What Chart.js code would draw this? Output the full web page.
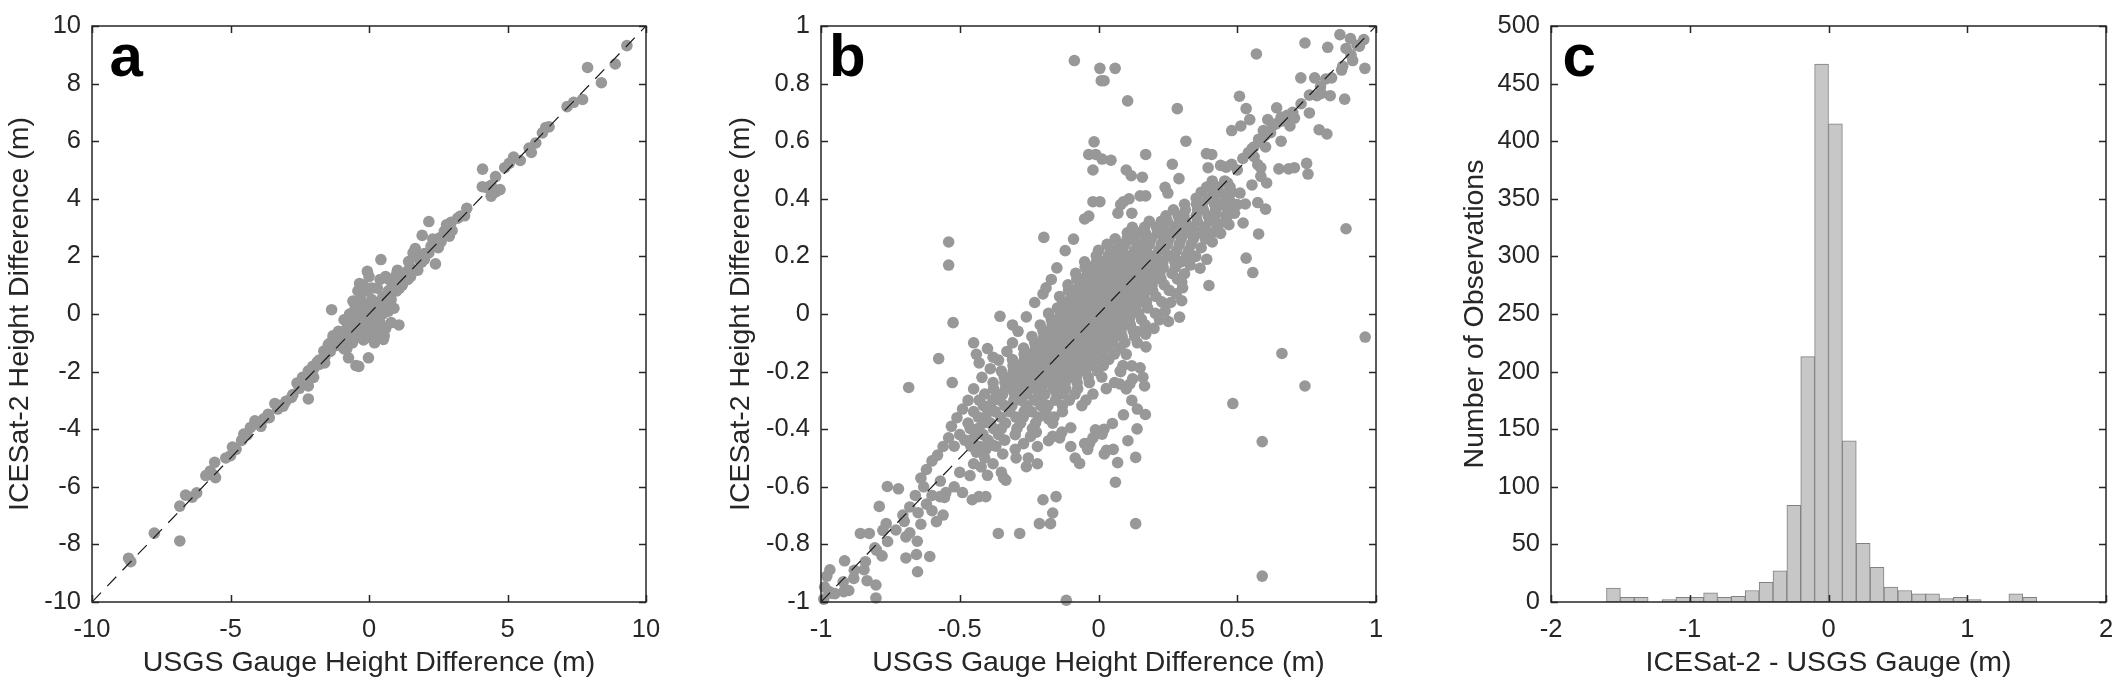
<!DOCTYPE html>
<html><head><meta charset="utf-8">
<script src="https://cdn.jsdelivr.net/npm/chart.js@4.4.1/dist/chart.umd.min.js"></script>
<style>
html,body{margin:0;padding:0;background:#fff;}
body{width:2125px;height:686px;position:relative;overflow:hidden;}
canvas{position:absolute;top:0;}
</style></head><body>
<canvas id="ca" width="700" height="686" style="left:0px"></canvas>
<canvas id="cb" width="730" height="686" style="left:700px"></canvas>
<canvas id="cc" width="695" height="686" style="left:1430px"></canvas>
<script>
// ---------- tick values ----------
const aTicksX = [-10, -5, 0, 5, 10];
const aTicksY = [-10, -8, -6, -4, -2, 0, 2, 4, 6, 8, 10];
const bTicksX = [-1, -0.5, 0, 0.5, 1];
const bTicksY = [-1, -0.8, -0.6, -0.4, -0.2, 0, 0.2, 0.4, 0.6, 0.8, 1];
const cTicksX = [-2, -1, 0, 1, 2];
const cTicksY = [0, 50, 100, 150, 200, 250, 300, 350, 400, 450, 500];

// ---------- 1:1 lines ----------
const aOneToOne = [[-10, -10], [10, 10]];
const bOneToOne = [[-1, -1], [1, 1]];

// ---------- panel a: ICESat-2 vs USGS height difference (m) ----------
const aPoints = [
[9.31,9.32],[7.89,8.56],[8.89,8.68],[8.39,8.03],[7.71,7.45],[7.39,7.35],[7.15,7.2],[6.38,6.47],[6.26,6.29],[6.5,6.5],
[6.02,5.94],[5.86,5.61],[5.78,5.76],[5.46,5.33],[5.22,5.45],[5.06,5.23],[4.9,5.08],[4.1,5.03],[4.57,4.77],[4.41,4.47],
[4.25,4.39],[4.57,4.24],[4.73,4.32],[4.09,4.42],[4.41,4.09],[3.53,3.67],[3.45,3.41],[3.2,3.33],[2.96,3.18],[2.8,3.1],
[2.72,2.88],[2.56,2.65],[2.16,3.21],[1.92,2.73],[2.4,1.74],[2.4,2.42],[2.16,2.12],[2.24,2.35],[1.67,2.27],[1.59,2.12],
[1.76,1.52],[1.35,1.36],[1.19,1.21],[1.43,1.82],[1.03,1.52],[0.71,1.21],[0.87,1.06],[1.2,1.4],[1.5,1.3],[1.8,2.0],
[2.0,2.1],[2.6,2.5],[2.9,2.7],[3.0,2.9],[1.1,0.9],[1.4,1.5],[2.5,2.3],[2.3,2.6],[3.3,3.4],[2.0,1.9],
[-2.0,-1.9],[-1.8,-1.75],[-1.6,-1.5],[-1.4,-1.3],[-1.2,-1.1],[-1.0,-0.9],[-1.1,-0.6],[-0.9,-0.8],[-0.8,-0.5],[-0.7,-0.9],
[-0.6,-0.3],[-0.5,-0.6],[-0.4,-0.1],[-0.3,-0.4],[-0.2,0.2],[-0.1,-0.2],[0,0],[0.1,0.3],[0.2,-0.1],[0.3,0.4],
[0.4,0.1],[0.5,0.6],[0.6,0.3],[0.7,0.8],[0.8,0.5],[0.9,1.0],[1.0,0.8],[1.1,1.2],[1.2,1.0],[1.3,1.4],
[1.5,1.6],[1.6,1.5],[1.8,1.9],[1.9,1.8],[-0.5,0.2],[-0.3,0.5],[-0.1,0.8],[0.1,0.9],[0.3,0.9],[-0.5,-0.2],
[-0.3,0],[-0.1,0.3],[0.1,0.5],[0.3,0.2],[0.5,0.0],[0.7,0.1],[0.8,-0.3],[0.6,-0.5],[0.4,-0.3],[0.2,-0.5],
[0.0,-0.4],[-0.2,-0.6],[-0.4,-0.8],[-0.6,-1.0],[-0.2,-0.9],[0.0,-0.8],[0.2,-1.0],[0.3,-0.7],[0.5,-0.8],[-0.8,-1.2],
[-0.7,0.0],[-0.9,-0.2],[0.9,0.2],[1.0,1.4],[0.6,1.3],[0.4,1.2],[-0.2,1.0],[-0.4,0.8],[0.0,1.3],[0.2,0.1],
[-0.1,-0.1],[0.1,-0.2],[-0.3,-0.3],[0.3,-0.1],[0.5,0.3],[0.7,0.5],[-0.6,-0.7],[-0.8,-0.8],[-1.0,-1.1],[-1.2,-0.8],
[-1.4,-1.0],[1.2,1.3],[1.4,1.2],[0.8,0.9],[-0.06,1.48],[0.43,1.89],[-0.34,1.06],[-0.26,0.76],[-0.58,0.45],[-0.42,0.3],
[-1.35,0.15],[1.08,-0.38],[0.52,-0.88],[0.55,-0.76],[-0.02,-1.52],[-0.47,-1.79],[-0.37,-1.82],[-0.74,-1.52],[-0.9,-1.21],[-1.06,-0.91],
[-1.3,-0.76],[-1.47,-1.06],[-1.63,-1.29],[-1.87,-1.67],[-2.03,-1.82],[-2.19,-1.97],[-2.35,-2.27],[-2.19,-2.5],[-2.19,-2.95],[-2.51,-2.58],
[-2.75,-2.8],[-3.0,-3.03],[-3.24,-3.18],[-3.4,-3.11],[-3.64,-3.48],[-3.8,-3.64],[-3.96,-3.79],[-4.12,-3.71],[-4.28,-3.94],[-4.52,-4.17],
[-4.6,-4.39],[-4.93,-4.62],[-5.0,-4.92],[-5.17,-5.0],[-5.57,-5.15],[-5.73,-5.45],[-5.89,-5.61],[-5.54,-5.68],[-6.22,-6.21],[-6.38,-6.36],
[-6.62,-6.29],[-6.83,-6.67],[-6.83,-7.88],[-7.75,-7.61],[-8.68,-8.48],[-8.6,-8.6],[-2.6,-2.4],[-2.8,-2.9],[-3.1,-3.2],[-2.4,-2.2],
[-3.3,-3.3],[-3.6,-3.6],[-2.2,-2.1],[-2.0,-2.2],[-1.8,-1.6],[-1.6,-1.7],[-3.9,-3.9],[-4.4,-4.2],[-4.8,-4.7],[-5.6,-5.6]
];

// ---------- panel b: zoom to +/-1 m ----------
// dense core read row by row: [y, x, x, x, ...]
const bCoreRows = [
[0.462,0.41,0.455],
[0.441,0.39,0.43,0.474],
[0.423,0.37,0.414,0.437,0.48],
[0.402,0.352,0.395,0.417,0.461],
[0.381,0.31,0.353,0.374,0.418,0.44,0.481],
[0.362,0.27,0.313,0.357,0.378,0.422,0.466],
[0.341,0.243,0.287,0.308,0.352,0.395,0.417,0.459],
[0.322,0.183,0.226,0.248,0.291,0.313,0.356,0.4,0.421],
[0.301,0.122,0.166,0.209,0.231,0.274,0.296,0.339,0.382,0.428],
[0.282,0.104,0.147,0.169,0.212,0.256,0.277,0.321,0.364,0.408],
[0.261,0.06,0.103,0.125,0.168,0.19,0.233,0.255,0.298,0.342,0.385],
[0.242,0.031,0.074,0.096,0.139,0.161,0.183,0.226,0.248,0.291,0.334],
[0.221,0.0,0.043,0.065,0.087,0.13,0.152,0.173,0.217,0.238,0.282,0.325],
[0.202,-0.008,0.035,0.057,0.078,0.1,0.122,0.143,0.165,0.187,0.208,0.252,0.273,0.317],
[0.181,-0.05,-0.007,0.015,0.037,0.058,0.08,0.102,0.123,0.145,0.167,0.188,0.21,0.232,0.275,0.297],
[0.162,-0.048,-0.027,-0.005,0.017,0.038,0.06,0.082,0.103,0.125,0.147,0.168,0.19,0.212,0.233,0.277],
[0.141,-0.082,-0.039,-0.017,0.005,0.026,0.048,0.07,0.091,0.113,0.135,0.156,0.178,0.2,0.221,0.265],
[0.122,-0.078,-0.057,-0.035,-0.013,0.008,0.03,0.052,0.073,0.095,0.117,0.138,0.16,0.182,0.203,0.225,0.284],
[0.101,-0.11,-0.067,-0.045,-0.023,-0.002,0.02,0.042,0.063,0.085,0.107,0.128,0.15,0.172,0.193,0.237],
[0.082,-0.108,-0.087,-0.065,-0.043,-0.022,0.0,0.022,0.043,0.065,0.087,0.108,0.13,0.152,0.173,0.195,0.255],
[0.061,-0.14,-0.097,-0.075,-0.053,-0.032,-0.01,0.012,0.033,0.055,0.077,0.098,0.12,0.142,0.163,0.207],
[0.042,-0.13,-0.109,-0.087,-0.065,-0.044,-0.022,0.0,0.021,0.043,0.065,0.086,0.108,0.13,0.151,0.173,0.228],
[0.021,-0.148,-0.127,-0.105,-0.083,-0.062,-0.04,-0.018,0.003,0.025,0.047,0.068,0.09,0.112,0.133,0.177],
[0.002,-0.18,-0.137,-0.115,-0.093,-0.072,-0.05,-0.028,-0.007,0.015,0.037,0.058,0.08,0.102,0.123,0.145,0.205],
[-0.019,-0.17,-0.149,-0.127,-0.105,-0.084,-0.062,-0.04,-0.019,0.003,0.025,0.046,0.068,0.09,0.111,0.155],
[-0.038,-0.21,-0.167,-0.145,-0.123,-0.102,-0.08,-0.058,-0.037,-0.015,0.007,0.028,0.05,0.072,0.093,0.115,0.168],
[-0.059,-0.2,-0.179,-0.157,-0.135,-0.114,-0.092,-0.07,-0.049,-0.027,-0.005,0.016,0.038,0.06,0.081,0.125],
[-0.078,-0.24,-0.197,-0.175,-0.153,-0.132,-0.11,-0.088,-0.067,-0.045,-0.023,-0.002,0.02,0.042,0.063,0.085,0.13],
[-0.099,-0.23,-0.209,-0.187,-0.165,-0.144,-0.122,-0.1,-0.079,-0.057,-0.035,-0.014,0.008,0.03,0.051,0.095],
[-0.118,-0.27,-0.227,-0.205,-0.183,-0.162,-0.14,-0.118,-0.097,-0.075,-0.053,-0.032,-0.01,0.012,0.033,0.077],
[-0.139,-0.268,-0.247,-0.225,-0.203,-0.182,-0.16,-0.138,-0.117,-0.095,-0.073,-0.052,-0.03,-0.008,0.013,0.057],
[-0.158,-0.31,-0.267,-0.245,-0.223,-0.202,-0.18,-0.158,-0.137,-0.115,-0.093,-0.072,-0.05,-0.028,-0.007,0.037],
[-0.179,-0.308,-0.287,-0.265,-0.243,-0.222,-0.2,-0.178,-0.157,-0.135,-0.113,-0.092,-0.07,-0.048,-0.027,0.017,0.088],
[-0.198,-0.35,-0.307,-0.285,-0.263,-0.242,-0.22,-0.198,-0.177,-0.155,-0.133,-0.112,-0.09,-0.068,-0.047,-0.003,0.078],
[-0.219,-0.34,-0.319,-0.297,-0.275,-0.254,-0.232,-0.21,-0.189,-0.167,-0.145,-0.124,-0.102,-0.08,-0.037,0.012],
[-0.238,-0.38,-0.337,-0.315,-0.293,-0.272,-0.25,-0.228,-0.207,-0.185,-0.163,-0.142,-0.12,-0.077,-0.033,0.058],
[-0.259,-0.378,-0.335,-0.313,-0.292,-0.27,-0.248,-0.227,-0.205,-0.162,-0.14,-0.118,-0.075,0.028],
[-0.278,-0.41,-0.367,-0.345,-0.302,-0.28,-0.258,-0.215,-0.193,-0.15,-0.128,-0.085,-0.02],
[-0.299,-0.43,-0.38,-0.355,-0.305,-0.28,-0.23,-0.205,-0.155,-0.105,-0.045],
[-0.318,-0.415,-0.39,-0.338,-0.312,-0.26,-0.208,-0.182,-0.13,-0.06],
[-0.339,-0.45,-0.398,-0.372,-0.32,-0.268,-0.242,-0.19,-0.13],
[-0.358,-0.433,-0.406,-0.352,-0.298,-0.271,-0.217,-0.16],
[-0.379,-0.47,-0.416,-0.389,-0.335,-0.281,-0.227,-0.165],
[-0.398,-0.462,-0.434,-0.378,-0.35,-0.294,-0.238],
[-0.419,-0.5,-0.444,-0.416,-0.36,-0.3],
[-0.438,-0.482,-0.454,-0.398,-0.338],
[-0.459,-0.52,-0.46,-0.43,-0.37]
];
// scattered points around the core
const bScatter = [
[-0.087,0.88],[0.005,0.853],[0.01,0.81],[0.02,0.81],[0.06,0.853],[0.105,0.74],[0.284,0.713],[0.315,0.6],[-0.016,0.598],[-0.035,0.554],
[-0.01,0.554],[-0.02,0.5],[0.013,0.538],[0.045,0.534],[0.1,0.5],[0.118,0.48],[0.158,0.475],[0.17,0.554],[0.266,0.52],[0.29,0.47],
[0.389,0.557],[0.408,0.554],[0.44,0.516],[0.395,0.508],[0.569,0.903],[0.744,0.941],[0.87,0.97],[0.908,0.956],[0.956,0.953],[0.932,0.933],
[0.892,0.922],[0.916,0.88],[0.96,0.853],[0.876,0.847],[0.826,0.926],[0.729,0.82],[0.779,0.82],[0.819,0.816],[0.803,0.766],[0.835,0.758],
[0.787,0.758],[0.887,0.746],[0.76,0.698],[0.795,0.64],[0.823,0.625],[0.508,0.756],[0.532,0.713],[0.545,0.675],[0.513,0.653],[0.48,0.637],
[0.642,0.716],[0.658,0.683],[0.61,0.675],[0.594,0.637],[0.626,0.653],[0.658,0.6],[0.577,0.607],[0.561,0.546],[0.706,0.68],[0.674,0.683],
[0.69,0.653],[0.553,0.574],[0.602,0.58],[0.574,0.519],[0.585,0.508],[0.65,0.504],[0.606,0.455],[0.585,0.478],[0.553,0.448],[0.529,0.382],
[0.574,0.387],[0.602,0.364],[0.521,0.316],[0.577,0.278],[0.532,0.194],[0.556,0.144],[0.75,0.523],[0.755,0.486],[0.706,0.508],[0.685,0.504],
[0.892,0.296],[0.961,-0.08],[0.661,-0.137],[0.744,-0.25],[0.484,-0.311],[0.59,-0.443],[0.59,-0.91],
[0.48,0.52],[0.5,0.5],[0.46,0.51],[0.52,0.54],[0.54,0.56],[0.56,0.58],[0.58,0.6],[0.6,0.62],[0.62,0.63],[0.64,0.66],
[0.66,0.67],[0.68,0.69],[0.7,0.7],[0.73,0.73],[0.76,0.76],[0.8,0.79],[0.84,0.82],[0.88,0.86],[0.91,0.9],[0.94,0.93],
[0.465,0.455],[0.456,0.417],[0.473,0.394],[0.44,0.379],[0.424,0.349],[0.465,0.341],[0.456,0.319],[0.39,0.19],[0.366,0.159],[0.398,0.099],
[0.303,0.091],[0.3,0.046],[0.252,-0.026],[0.292,-0.011],[0.139,-0.061],[0.171,-0.114],[0.15,-0.187],[0.123,-0.225],[0.077,-0.243],[0.113,-0.243],
[0.166,-0.25],[0.169,-0.349],[0.139,-0.399],[0.106,-0.44],[0.134,-0.498],[0.069,-0.516],[0.061,-0.584],[0.134,-0.728],[0.029,-0.473],[0.021,-0.486],
[0.053,-0.47],[0.013,-0.417],[-0.011,-0.402],[-0.032,-0.448],[-0.039,-0.47],[-0.068,-0.519],[-0.116,-0.994],[-0.084,-0.5],[-0.1,-0.395],[-0.132,-0.41],
[-0.165,-0.425],[-0.18,-0.364],[-0.153,-0.634],[-0.165,-0.691],[-0.2,-0.645],[-0.173,-0.728],[-0.213,-0.728],[-0.284,-0.762],[-0.361,-0.762],[-0.297,-0.5],
[-0.253,-0.5],[-0.245,-0.425],[-0.224,-0.41],[-0.455,-0.645],[-0.431,-0.634],[-0.406,-0.634],[-0.463,-0.561],[-0.423,-0.531],[-0.342,-0.569],[-0.334,-0.577],
[-0.345,-0.486],[-0.382,-0.455],[-0.406,-0.47],[-0.571,-0.634],[-0.6,-0.683],[-0.56,-0.698],[-0.584,-0.721],[-0.555,-0.637],
[-0.608,-0.842],[-0.652,-0.895],[-0.653,-0.789],[-0.656,-0.835],[-0.694,-0.847],[-0.694,-0.774],[-0.705,-0.698],[-0.721,-0.607],[-0.761,-0.599],[-0.79,-0.668],
[-0.765,-0.728],[-0.777,-0.751],[-0.826,-0.762],[-0.858,-0.762],[-0.806,-0.812],[-0.802,-0.941],[-0.802,-0.986],[-0.845,-0.888],[-0.882,-0.918],[-0.915,-0.857],
[-0.968,-0.888],[-0.979,-0.91],[-0.971,-0.964],[-0.95,-0.971],[-0.918,-0.964],[-0.987,-0.948],[-0.834,-0.926],
[-0.54,0.25],[-0.54,0.17],[-0.524,-0.03],[-0.576,-0.155],[-0.527,-0.238],[-0.684,-0.255],[-0.197,0.266],[-0.355,-0.008],[-0.31,-0.038],[-0.189,0.091],
[-0.02,0.39],[0.005,0.39],[-0.035,0.34],[-0.05,0.33],[0.24,0.44],[0.25,0.42],[0.17,0.41],[0.15,0.41],[0.11,0.4],[0.09,0.39],
[0.08,0.38],[0.07,0.35],[0.12,0.35],[-0.09,0.26],[-0.12,0.22],[-0.15,0.16],[-0.17,0.12],[-0.2,0.07],[-0.23,0.04],[-0.26,-0.01],
[-0.29,-0.06],[-0.31,-0.1],[-0.33,-0.13],[-0.36,-0.16],[-0.39,-0.19],[-0.42,-0.22],[-0.45,-0.26],[-0.47,-0.3],[-0.49,-0.33],[-0.51,-0.36],
[-0.53,-0.39],[-0.54,-0.43],[-0.56,-0.46],[-0.58,-0.49],[-0.6,-0.51],[-0.62,-0.54],[-0.64,-0.57],[-0.45,-0.1],[-0.44,-0.14],[-0.43,-0.17],
[-0.4,-0.12],[-0.38,-0.15],[-0.57,-0.58],[-0.63,-0.6],[-0.66,-0.63],[-0.68,-0.67],[-0.62,-0.66],[-0.7,-0.72],[-0.73,-0.75],[-0.76,-0.79],
[-0.8,-0.82],[-0.84,-0.86],[-0.88,-0.89],[-0.92,-0.93],[-0.96,-0.97],[-0.99,-0.99],[-0.9,-0.96],[-0.78,-0.84],
[0.08,-0.2],[0.1,-0.26],[0.12,-0.3],[0.14,-0.33],[0.09,-0.35],[0.05,-0.38],[0.02,-0.4],[-0.02,-0.43],[-0.05,-0.45],[0.16,-0.22],
[0.12,-0.18],[0.1,-0.14],[0.14,-0.1],[0.17,-0.07],[0.2,-0.05],[0.22,-0.02],[0.24,0.01],[0.26,0.04],[0.28,0.07],[0.3,0.11],
[0.31,0.14],[0.33,0.17],[0.35,0.2],[0.37,0.23],[0.41,0.25],[0.44,0.28],[0.47,0.31],[0.49,0.35],[0.5,0.38],[0.51,0.42],
[-0.47,-0.44],[-0.44,-0.48],[-0.41,-0.5],[-0.38,-0.52],[-0.35,-0.55],[-0.4,-0.56],[-0.45,-0.52],[-0.3,-0.47],[-0.27,-0.45],[-0.22,-0.46],
[-0.18,-0.44],[-0.14,-0.43],[-0.1,-0.46],[-0.26,-0.53],[-0.22,-0.52],[-0.5,-0.55],[-0.52,-0.6],[-0.55,-0.62],[-0.49,-0.62],[-0.6,-0.63],
[-0.65,-0.69],[-0.64,-0.73],[-0.68,-0.76]
];

// ---------- panel c: histogram of ICESat-2 - USGS (m), 0.1 m bins ----------
const histBinCenters = [-1.55,-1.45,-1.35,-1.25,-1.15,-1.05,-0.95,-0.85,-0.75,-0.65,-0.55,-0.45,-0.35,-0.25,-0.15,-0.05,
                        0.05,0.15,0.25,0.35,0.45,0.55,0.65,0.75,0.85,0.95,1.05,1.15,1.25,1.35,1.45];
const histCounts = [12,4,4,0,2,4,4,8,4,5,10,17,27,84,213,467,415,140,51,30,13,10,7,7,3,4,2,0,0,7,4];

// ---------- styling / helpers ----------
const FONT = '"Liberation Sans", Arial, Helvetica, sans-serif';
const INK = '#262626';

const framePlugin = {
  id: 'frame',
  afterDatasetsDraw(chart, args, opts) {
    const {ctx, chartArea: {left, right, top, bottom}, scales: {x, y}} = chart;
    ctx.save();
    ctx.strokeStyle = INK;
    ctx.lineWidth = 1.5;
    ctx.beginPath();
    x.ticks.forEach(t => {
      const p = Math.round(x.getPixelForValue(t.value)) + 0.5;
      ctx.moveTo(p, bottom); ctx.lineTo(p, bottom - 7);
      ctx.moveTo(p, top); ctx.lineTo(p, top + 7);
    });
    y.ticks.forEach(t => {
      const p = Math.round(y.getPixelForValue(t.value)) + 0.5;
      ctx.moveTo(left, p); ctx.lineTo(left + 7, p);
      ctx.moveTo(right, p); ctx.lineTo(right - 7, p);
    });
    ctx.stroke();
    ctx.strokeRect(left, top, right - left, bottom - top);
    ctx.fillStyle = '#000';
    ctx.font = 'bold 60px ' + FONT;
    ctx.textBaseline = 'alphabetic';
    ctx.textAlign = 'left';
    ctx.fillText(opts.label, opts.lx, opts.ly);
    ctx.restore();
  }
};

function makeScale(min, max, tickVals, title, isY, titlePad, size) {
  return {
    type: 'linear', min: min, max: max, offset: false,
    grid: {display: false, drawTicks: false},
    border: {display: false},
    ticks: {
      font: {family: FONT, size: 25.5}, color: INK,
      padding: isY ? 11 : 13, autoSkip: false, maxRotation: 0,
      callback: v => String(v)
    },
    afterBuildTicks: s => { s.ticks = tickVals.map(v => ({value: v})); },
    afterFit: s => {
      if (isY) { s.width = size; s.paddingTop = 0; s.paddingBottom = 0; }
      else { s.height = size; s.paddingLeft = 0; s.paddingRight = 0; }
    },
    title: {
      display: true, text: title, color: INK,
      font: {family: FONT, size: 28.5},
      padding: isY ? {top: titlePad, bottom: 0} : {top: 0, bottom: titlePad}
    }
  };
}

function baseOptions(padRight, label, lx, xs, ys) {
  return {
    responsive: false, animation: false, events: [],
    layout: {padding: {left: 0, right: padRight, top: 26, bottom: 0}},
    plugins: {legend: {display: false}, tooltip: {enabled: false}, frame: {label: label, lx: lx, ly: 76}},
    scales: {x: xs, y: ys}
  };
}

function scatterDatasets(points, line) {
  return [
    {type: 'line', data: line.map(p => ({x: p[0], y: p[1]})), borderColor: '#1a1a1a', borderWidth: 1.2,
     borderDash: [13, 9], pointRadius: 0, fill: false, order: 0, clip: 0},
    {type: 'scatter', data: points.map(p => ({x: p[0], y: p[1]})), backgroundColor: 'rgb(152,152,152)',
     borderWidth: 0, pointRadius: 5.8, pointBorderWidth: 0, order: 1, clip: false}
  ];
}

// panel a
new Chart(document.getElementById('ca'), {
  type: 'scatter',
  data: {datasets: scatterDatasets(aPoints, aOneToOne)},
  options: baseOptions(54, 'a', 109.5,
    makeScale(-10, 10, aTicksX, 'USGS Gauge Height Difference (m)', false, 6, 84),
    makeScale(-10, 10, aTicksY, 'ICESat-2 Height Difference (m)', true, 3, 92)),
  plugins: [framePlugin]
});

// panel b
const bPoints = [];
bCoreRows.forEach(r => { for (let i = 1; i < r.length; i++) bPoints.push([r[i], r[0]]); });
bScatter.forEach(p => bPoints.push(p));
new Chart(document.getElementById('cb'), {
  type: 'scatter',
  data: {datasets: scatterDatasets(bPoints, bOneToOne)},
  options: baseOptions(54, 'b', 129,
    makeScale(-1, 1, bTicksX, 'USGS Gauge Height Difference (m)', false, 6, 84),
    makeScale(-1, 1, bTicksY, 'ICESat-2 Height Difference (m)', true, 24, 121)),
  plugins: [framePlugin]
});

// panel c
new Chart(document.getElementById('cc'), {
  type: 'bar',
  data: {datasets: [{
    data: histBinCenters.map((c, i) => ({x: c, y: histCounts[i]})),
    backgroundColor: 'rgb(199,199,199)', borderColor: 'rgb(128,128,128)', borderWidth: 1,
    borderSkipped: false, barPercentage: 1, categoryPercentage: 1, grouped: false
  }]},
  options: baseOptions(19, 'c', 132.5,
    makeScale(-2, 2, cTicksX, 'ICESat-2 - USGS Gauge (m)', false, 6, 84),
    makeScale(0, 500, cTicksY, 'Number of Observations', true, 28, 121)),
  plugins: [framePlugin]
});
</script></body></html>
